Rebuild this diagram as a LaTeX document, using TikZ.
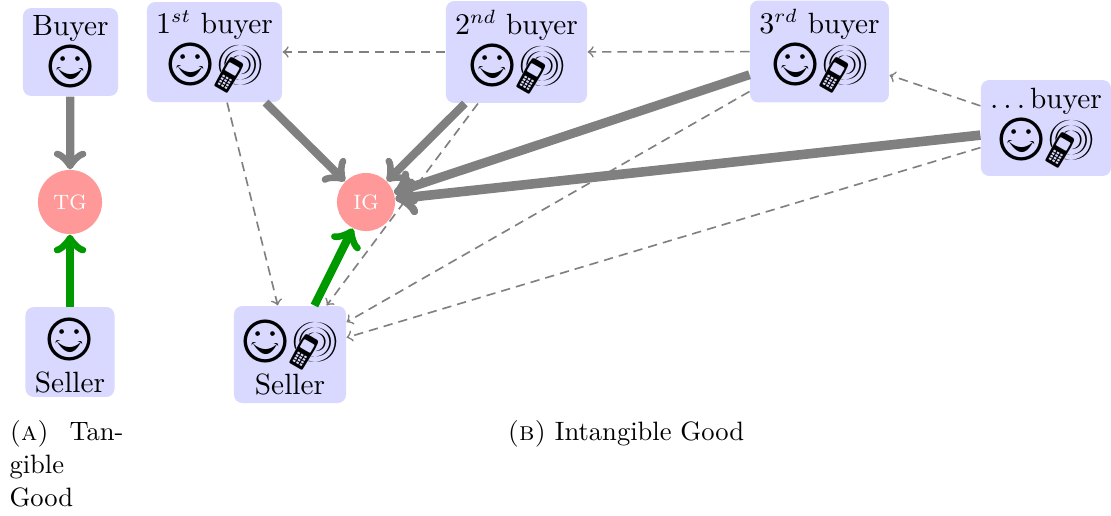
\documentclass[tikz,border=0pt]{standalone}
\usepackage{marvosym}
\newcommand{\buyface}{\scalebox{2}{\Smiley}}
\newcommand{\buyphone}{\scalebox{1.9}{\Mobilefone}}
\newcommand{\capfont}{\fontsize{9.7}{11.9}\selectfont}
\newcommand{\sellrow}[1]{\rule{0pt}{18pt}#1\\[-2.5pt] Seller}
\tikzset{
    party/.style={fill=blue!15, rounded corners=3pt, align=center, inner sep=0pt, font=\fontsize{10.7}{14.2}\selectfont},
    good/.style={circle, fill=red!40, text=white, font=\fontsize{7.6}{9}\selectfont, inner sep=0pt},
    flow/.style={->, gray, line width=3pt},
    pay/.style={->, green!60!black, line width=3pt},
    signal/.style={->, gray, dashed, line width=0.6pt, dash pattern=on 3.4pt off 2.2pt}
}
\begin{document}
\begin{tikzpicture}[x=0.365pt, y=-0.365pt]
        \useasboundingbox (0,0) rectangle (1111,515);

        % Tangible good
        \node[party, minimum width=34.7pt, minimum height=32.1pt] (buyerA) at (70.5,52) {Buyer\\ \buyface};
        \node[good, minimum size=23.4pt] (tg) at (70,202) {TG};
        \node[party, minimum width=32.5pt, minimum height=32.8pt] (sellerA) at (70,352) {\sellrow{\buyface}};
        \draw[flow] (buyerA) -- (tg);
        \draw[pay] (sellerA) -- (tg);

        % Intangible good
        \node[party, minimum width=49.3pt, minimum height=36.5pt] (first) at (214.5,52) {$1^{st}$ buyer\\ \buyface\buyphone};
        \node[party, minimum width=51.5pt, minimum height=37.2pt] (second) at (516.5,52) {$2^{nd}$ buyer\\ \buyface\buyphone};
        \node[party, minimum width=50.7pt, minimum height=37.2pt] (third) at (819.5,51.5) {$3^{rd}$ buyer\\ \buyface\buyphone};
        \node[party, minimum width=47.5pt, minimum height=35pt] (last) at (1046,128) {$\ldots$\,buyer\\ \buyface\buyphone};
        \node[good, minimum size=21.2pt] (ig) at (366,202) {IG};
        \node[party, minimum width=40.9pt, minimum height=35.4pt] (sellerB) at (290,354.5) {\sellrow{\buyface\buyphone}};

        % Announcements
        \draw[signal] (second) -- (first);
        \draw[signal] (third) -- (second);
        \draw[signal] (last) -- (third);
        \draw[signal] (first) -- (sellerB);
        \draw[signal] (second) -- (sellerB);
        \draw[signal] (third) -- (sellerB);
        \draw[signal] (last) -- (sellerB);

        % Payments
        \draw[flow] (first) -- (ig);
        \draw[flow] (second) -- (ig);
        \draw[flow, line width=3.3pt] (third) -- (ig);
        \draw[flow, line width=3.5pt] (last) -- (ig);
        \draw[pay] (sellerB) -- (ig);

        % Captions
        \node[anchor=north west, align=left, inner sep=0pt, font=\capfont] (capA) at (9,420.5) {\textsc{(a)}\hspace{7.5pt}Tan-\\ gible\\ Good};
        \node[anchor=north west, inner sep=0pt, font=\capfont] (capB) at (507,420.5) {\textsc{(b)}\ Intangible Good};
    \end{tikzpicture}
\end{document}
